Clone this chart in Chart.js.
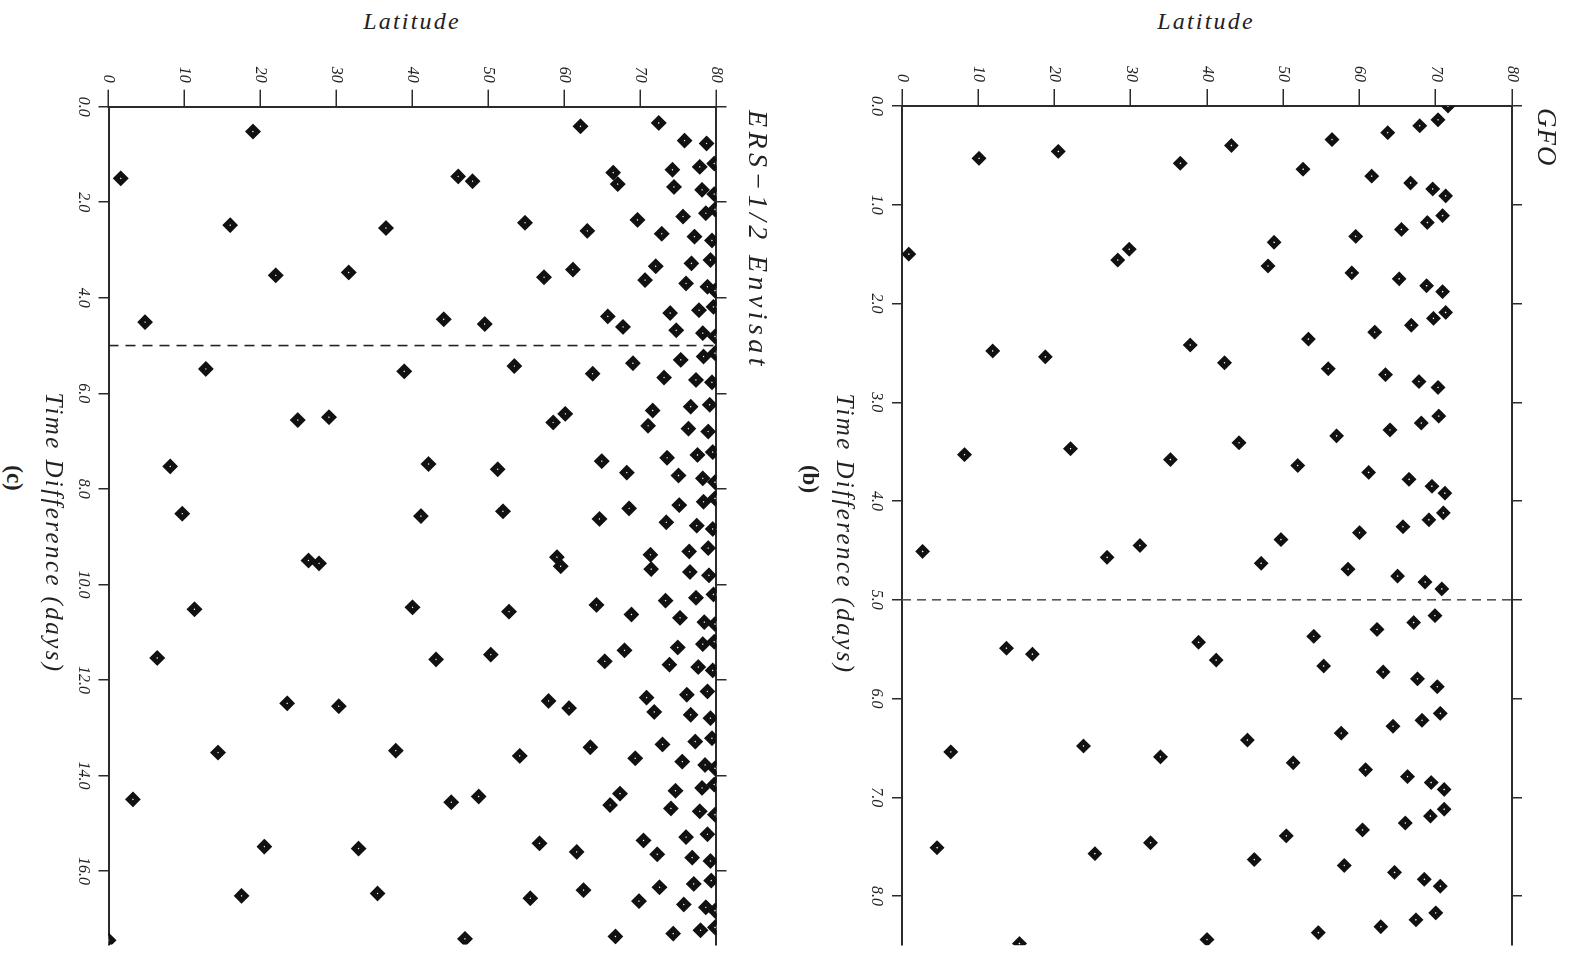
<!DOCTYPE html>
<html>
<head>
<meta charset="utf-8"/>
<style>
  html,body{margin:0;padding:0;background:#fff;overflow:hidden;}
  body{width:1575px;height:954px;position:relative;}
  /* whole figure is drawn upright, then turned a quarter turn clockwise */
  #rot{position:absolute;left:0;top:0;width:954px;height:1575px;overflow:hidden;
       transform-origin:0 0;transform:translate(1575px,0) rotate(90deg);}
  canvas{position:absolute;left:0;}
  .lbl{position:absolute;font-family:"Liberation Serif",serif;font-style:italic;color:#222;
       white-space:nowrap;line-height:1;transform:translate(-50%,-50%);}
  .ttl{transform:translate(0,-50%);}
  .tag{font-style:normal;font-weight:bold;}
</style>
<script src="https://cdn.jsdelivr.net/npm/chart.js@4.4.0/dist/chart.umd.min.js"></script>
</head>
<body>
<div class="lbl" style="left:1206px;top:21px;font-size:24px;letter-spacing:2.2px;">Latitude</div>
<div class="lbl" style="left:412px;top:21px;font-size:24px;letter-spacing:2.2px;">Latitude</div>

<div id="rot">
  <canvas id="gfo" width="954" height="733" style="top:0px"></canvas>
  <canvas id="ers" width="954" height="731" style="top:796px"></canvas>

  <div class="lbl ttl" style="left:108px;top:28px;font-size:27px;letter-spacing:1px;">GFO</div>
  <div class="lbl" style="left:534px;top:729px;font-size:25px;letter-spacing:2.4px;">Time Difference (days)</div>
  <div class="lbl tag" style="left:479px;top:764px;font-size:23px;">(b)</div>

  <div class="lbl ttl" style="left:110px;top:817px;font-size:28px;letter-spacing:4.4px;">ERS−1/2 Envisat</div>
  <div class="lbl" style="left:533px;top:1520px;font-size:25px;letter-spacing:2.4px;">Time Difference (days)</div>
  <div class="lbl tag" style="left:478px;top:1561px;font-size:23px;">(c)</div>
</div>

<script>
// time ticks (days) and latitude ticks
const gfoTimeTicks = [0, 1, 2, 3, 4, 5, 6, 7, 8];
const ersTimeTicks = [0, 2, 4, 6, 8, 10, 12, 14, 16];
const latTicks     = [0, 10, 20, 30, 40, 50, 60, 70, 80];
const cutoffDays   = 5.0;

// GFO crossovers: time difference (days) vs latitude
const gfoTime = [
  0.00, 0.14, 0.20, 0.27, 0.34, 0.40, 0.46, 0.53, 0.58, 0.64, 0.71, 0.78, 0.84, 0.91,
  1.11, 1.18, 1.25, 1.32, 1.38, 1.45, 1.50, 1.56, 1.62, 1.69, 1.75, 1.82, 1.88,
  2.09, 2.15, 2.22, 2.29, 2.36, 2.42, 2.48, 2.54, 2.60, 2.66, 2.72, 2.79, 2.85,
  3.14, 3.21, 3.28, 3.34, 3.41, 3.47, 3.53, 3.58, 3.64, 3.71, 3.78, 3.85, 3.92,
  4.12, 4.19, 4.26, 4.32, 4.39, 4.45, 4.51, 4.57, 4.63, 4.69, 4.76, 4.82, 4.89,
  5.16, 5.23, 5.30, 5.37, 5.43, 5.49, 5.55, 5.61, 5.67, 5.73, 5.80, 5.88,
  6.15, 6.22, 6.28, 6.35, 6.42, 6.48, 6.54, 6.59, 6.65, 6.72, 6.79, 6.85, 6.92,
  7.12, 7.19, 7.26, 7.33, 7.39, 7.46, 7.51, 7.57, 7.63, 7.69, 7.76, 7.83, 7.90,
  8.17, 8.24, 8.31, 8.37, 8.44, 8.48
];
const gfoLat = [
  71.6, 70.3, 67.9, 63.7, 56.4, 43.2, 20.5, 10.1, 36.5, 52.6, 61.6, 66.7, 69.6, 71.3,
  70.9, 68.9, 65.5, 59.5, 48.8, 29.8, 0.9, 28.3, 48.0, 59.0, 65.2, 68.8, 70.9,
  71.3, 69.7, 66.8, 62.0, 53.3, 37.8, 11.9, 18.8, 42.3, 55.9, 63.4, 67.8, 70.3,
  70.4, 68.1, 64.0, 57.0, 44.2, 22.1, 8.2, 35.2, 51.9, 61.2, 66.5, 69.5, 71.2,
  71.0, 69.1, 65.7, 60.0, 49.7, 31.2, 2.7, 26.9, 47.1, 58.5, 65.0, 68.6, 70.8,
  69.9, 67.1, 62.3, 54.0, 38.9, 13.7, 17.1, 41.2, 55.3, 63.1, 67.6, 70.2,
  70.6, 68.2, 64.4, 57.6, 45.3, 23.8, 6.4, 33.9, 51.3, 60.8, 66.3, 69.4, 71.1,
  71.1, 69.3, 66.0, 60.4, 50.4, 32.6, 4.6, 25.3, 46.2, 58.0, 64.6, 68.5, 70.6,
  70.0, 67.4, 62.8, 54.6, 40.0, 15.4
];

// ERS-1/2 Envisat crossovers
const ersTime = [
  0.34, 0.41, 0.52, 0.71, 0.77,
  1.19, 1.26, 1.32, 1.38, 1.46, 1.50, 1.56, 1.62, 1.68, 1.74, 1.83,
  2.15, 2.23, 2.30, 2.37, 2.43, 2.48, 2.54, 2.60, 2.66, 2.72, 2.80,
  3.21, 3.28, 3.34, 3.41, 3.47, 3.53, 3.57, 3.63, 3.70, 3.77, 3.85,
  4.19, 4.26, 4.32, 4.39, 4.45, 4.51, 4.55, 4.61, 4.68, 4.74, 4.81,
  5.16, 5.23, 5.30, 5.37, 5.43, 5.49, 5.54, 5.59, 5.67, 5.72, 5.77,
  6.24, 6.28, 6.36, 6.43, 6.50, 6.56, 6.61, 6.68, 6.74, 6.80,
  7.23, 7.29, 7.35, 7.42, 7.48, 7.53, 7.59, 7.66, 7.72, 7.78, 7.86,
  8.20, 8.27, 8.34, 8.41, 8.47, 8.52, 8.57, 8.63, 8.70, 8.77, 8.84,
  9.24, 9.31, 9.38, 9.43, 9.50, 9.56, 9.62, 9.68, 9.74, 9.81,
  10.21, 10.28, 10.34, 10.43, 10.48, 10.52, 10.57, 10.63, 10.70, 10.79, 10.83,
  11.20, 11.25, 11.32, 11.38, 11.47, 11.54, 11.57, 11.61, 11.68, 11.73, 11.80,
  12.24, 12.31, 12.37, 12.44, 12.49, 12.55, 12.59, 12.67, 12.73, 12.80,
  13.22, 13.29, 13.35, 13.41, 13.48, 13.52, 13.59, 13.64, 13.71, 13.78, 13.85,
  14.19, 14.26, 14.32, 14.38, 14.44, 14.50, 14.56, 14.62, 14.69, 14.75, 14.82,
  15.23, 15.29, 15.36, 15.42, 15.49, 15.53, 15.60, 15.65, 15.72, 15.79,
  16.20, 16.27, 16.34, 16.40, 16.47, 16.52, 16.57, 16.63, 16.70, 16.76, 16.83,
  17.18, 17.24, 17.31, 17.37, 17.42, 17.45
];
const ersLat = [
  72.4, 62.1, 19.0, 75.8, 78.7,
  79.7, 77.8, 74.2, 66.4, 46.0, 1.6, 47.9, 67.0, 74.4, 78.1, 79.7,
  79.8, 78.6, 75.6, 69.6, 54.8, 16.0, 36.5, 63.0, 72.8, 77.1, 79.4,
  79.2, 76.7, 72.0, 61.1, 31.6, 22.0, 57.3, 70.6, 76.0, 78.8, 79.8,
  79.6, 77.7, 73.9, 65.7, 44.1, 4.8, 49.5, 67.7, 74.7, 78.2, 79.8,
  79.8, 78.3, 75.3, 69.0, 53.4, 12.8, 38.9, 63.7, 73.1, 77.3, 79.4,
  79.1, 76.6, 71.6, 60.1, 29.0, 24.9, 58.5, 71.0, 76.3, 78.9,
  79.5, 77.5, 73.5, 64.9, 42.1, 8.1, 51.2, 68.2, 75.0, 78.2, 79.8,
  79.8, 78.3, 75.1, 68.5, 51.9, 9.7, 41.1, 64.6, 73.4, 77.4, 79.5,
  78.9, 76.4, 71.3, 59.0, 26.3, 27.7, 59.5, 71.4, 76.5, 79.0,
  79.6, 77.3, 73.3, 64.2, 40.0, 11.3, 52.7, 68.8, 75.2, 78.4, 79.8,
  79.7, 78.2, 74.9, 67.9, 50.3, 6.4, 43.1, 65.3, 73.8, 77.6, 79.5,
  78.8, 76.1, 70.8, 57.9, 23.5, 30.3, 60.6, 71.8, 76.6, 79.2,
  79.4, 77.2, 72.9, 63.4, 37.8, 14.4, 54.1, 69.3, 75.5, 78.5, 79.8,
  79.7, 78.1, 74.6, 67.3, 48.7, 3.2, 45.1, 66.0, 74.0, 77.8, 79.8,
  78.8, 76.0, 70.4, 56.7, 20.5, 32.9, 61.6, 72.2, 76.8, 79.2,
  79.3, 77.0, 72.5, 62.5, 35.4, 17.5, 55.5, 69.8, 75.7, 78.6, 79.8,
  79.8, 77.9, 74.3, 66.7, 46.9, 0.0
];

const ink = "#2b2b2b";
const tickFont = { family: "Liberation Serif", style: "italic", size: 16 };

function panel(id, time, lat, timeTicks, xMax, opt) {
  const pts = time.map((t, i) => ({ x: t, y: lat[i] }));
  const setTicks = (vals) => (s) => { s.ticks = vals.map(v => ({ value: v })); };
  new Chart(document.getElementById(id), {
    type: "scatter",
    data: {
      datasets: [
        { data: pts, clip: 0, pointStyle: "rectRot", pointRadius: opt.r, pointHoverRadius: opt.r,
          pointBorderWidth: opt.bw, pointBackgroundColor: "#fff", pointBorderColor: "#111" },
        { data: [{ x: cutoffDays, y: 0 }, { x: cutoffDays, y: 80 }], showLine: true, pointRadius: 0,
          borderColor: opt.dashColor, borderWidth: 1.6, borderDash: opt.dash, clip: 0 }
      ]
    },
    options: {
      responsive: false, animation: false, devicePixelRatio: 1,
      layout: { padding: 0 },
      plugins: { legend: { display: false }, tooltip: { enabled: false } },
      scales: {
        x: {
          type: "linear", position: "bottom", min: 0, max: xMax,
          afterBuildTicks: setTicks(timeTicks),
          afterFit: (s) => { s.height = opt.bottomH; },
          grid: { drawOnChartArea: false, tickLength: 10, color: ink, lineWidth: 1.5 },
          border: { color: ink, width: 2 },
          ticks: { font: tickFont, color: "#222", padding: 6, maxRotation: 0, autoSkip: false,
                   callback: (v) => Number(v).toFixed(1) }
        },
        x2: {
          type: "linear", position: "top", min: 0, max: xMax,
          afterBuildTicks: setTicks(timeTicks),
          afterFit: (s) => { s.height = opt.topH; },
          grid: { drawOnChartArea: false, tickLength: 10, color: ink, lineWidth: 1.5 },
          border: { color: ink, width: 2 },
          ticks: { display: false }
        },
        y: {
          type: "linear", position: "left", min: 0, max: 80,
          afterBuildTicks: setTicks(latTicks),
          afterFit: (s) => { s.width = opt.leftW; },
          grid: { drawOnChartArea: false, tickLength: 17, color: ink, lineWidth: 1.5 },
          border: { color: ink, width: 2 },
          ticks: { font: tickFont, color: "#222", padding: 7, autoSkip: false }
        }
      }
    }
  });
}

panel("gfo", gfoTime, gfoLat, gfoTimeTicks, 8.497,
      { r: 4.2, bw: 4.6, topH: 63, bottomH: 60, leftW: 106, dash: [9, 6], dashColor: "#555" });
panel("ers", ersTime, ersLat, ersTimeTicks, 17.54,
      { r: 4.4, bw: 5, topH: 62.5, bottomH: 60.6, leftW: 106.7, dash: [10, 7], dashColor: "#222" });
</script>
</body>
</html>
